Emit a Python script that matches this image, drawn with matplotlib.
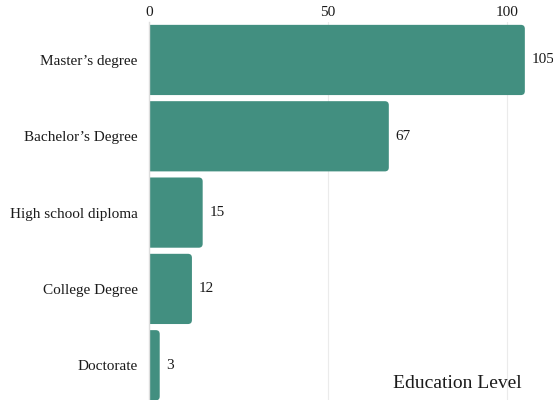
import matplotlib
matplotlib.use("Agg")
import matplotlib.pyplot as plt
from matplotlib.patches import FancyBboxPatch

# === Data ===
levels = ["Master’s degree", "Bachelor’s Degree", "High school diploma",
          "College Degree", "Doctorate"]
counts = [105, 67, 15, 12, 3]
xticks = [0, 50, 100]

BAR_COLOR = "#428f80"
TEXT_COLOR = "#1a1a1a"

plt.rcParams["font.family"] = ["Liberation Serif", "DejaVu Serif"]

fig = plt.figure(figsize=(5.53, 4.0), dpi=100)
ax = fig.add_axes([0.2694, -0.0085, 0.725, 0.954])

ypos = list(range(len(levels)))
bars = ax.barh(ypos, counts, height=0.92, color=BAR_COLOR)

# round right corners; left side starts past the axis so it gets clipped square
for b in bars:
    x0, y0, w, h = b.get_x(), b.get_y(), b.get_width(), b.get_height()
    b.set_alpha(0)
    p = FancyBboxPatch((x0 - 3, y0), w + 3, h,
                       boxstyle="round,pad=0,rounding_size=1.1",
                       mutation_aspect=0.047, color=BAR_COLOR,
                       linewidth=0, zorder=2)
    ax.add_patch(p)

ax.bar_label(bars, labels=[str(c) for c in counts], padding=5,
             fontsize=11, color=TEXT_COLOR)

ax.set_ylim(len(levels) - 0.5, -0.5)
ax.set_xlim(0, 112)
ax.set_yticks(ypos)
ax.set_yticklabels(levels, fontsize=11, color=TEXT_COLOR)
ax.set_xticks(xticks)
ax.set_xticklabels([str(t) for t in xticks], fontsize=11, color=TEXT_COLOR)
ax.xaxis.tick_top()
ax.tick_params(axis="both", length=0)
ax.tick_params(axis="y", pad=8)
ax.tick_params(axis="x", pad=2)

ax.grid(axis="x", color="#ebebeb", linewidth=0.8, zorder=0)
ax.set_axisbelow(True)
for s in ["top", "right", "bottom"]:
    ax.spines[s].set_visible(False)
ax.spines["left"].set_color("#dddddd")
ax.spines["left"].set_linewidth(1.0)
ax.spines["left"].set_zorder(3)

fig.text(522 / 553, 0.0425, "Education Level", ha="right", va="center",
         fontsize=14, color=TEXT_COLOR)

fig.savefig("out.png", dpi=100)
